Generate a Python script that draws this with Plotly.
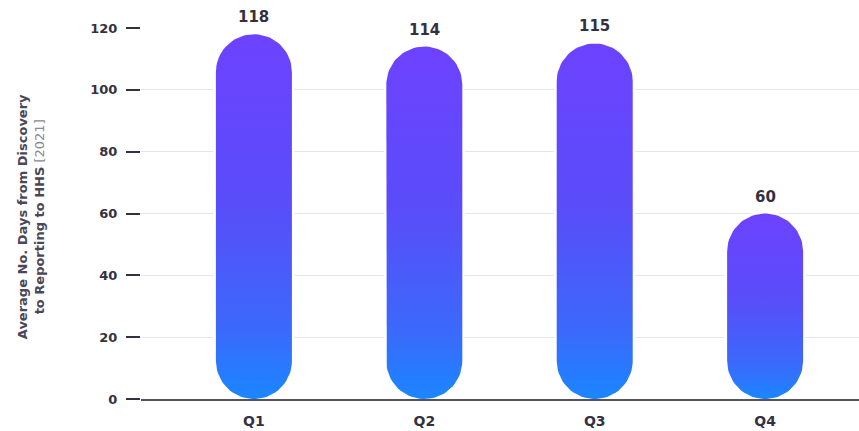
import numpy as np
import plotly.graph_objects as go

# Data
quarters = ["Q1", "Q2", "Q3", "Q4"]
avg_days = [118, 114, 115, 60]
y_ticks = [0, 20, 40, 60, 80, 100, 120]

# Layout geometry (pixels)
W, H = 859, 431
M_L, M_R, M_T, M_B = 141, 0, 28, 32
Y_MAX = 120
X_RANGE = [-0.6626, 3.551]
BAR_HALF_PX = 38  # half bar width == end-cap radius

plot_w = W - M_L - M_R
plot_h = H - M_T - M_B
px_per_x = plot_w / (X_RANGE[1] - X_RANGE[0])
px_per_y = plot_h / Y_MAX
half_w = BAR_HALF_PX / px_per_x
cap_ry = BAR_HALF_PX / px_per_y

TEXT = "#34313f"
FONT = "DejaVu Sans"

grad = [[0.0, "#1b86ff"], [0.2, "#3c68fb"], [0.55, "#5a4cf9"], [1.0, "#6d42ff"]]


def pill(xc, v):
    """Outline of a vertical capsule spanning 0..v centred at xc."""
    t_top = np.linspace(0, np.pi, 40)
    t_bot = np.linspace(np.pi, 2 * np.pi, 40)
    xs = np.concatenate([xc + half_w * np.cos(t_top), xc + half_w * np.cos(t_bot)])
    ys = np.concatenate([(v - cap_ry) + cap_ry * np.sin(t_top), cap_ry + cap_ry * np.sin(t_bot)])
    return np.append(xs, xs[0]), np.append(ys, ys[0])


fig = go.Figure()

for i, v in enumerate(avg_days):
    xs, ys = pill(i, v)
    # white halo so gridlines stop short of the bar
    fig.add_trace(go.Scatter(x=xs, y=ys, mode="lines", fill="toself",
                             fillcolor="white", line=dict(color="white", width=5),
                             hoverinfo="skip", showlegend=False))
    fig.add_trace(go.Scatter(x=xs, y=ys, mode="lines", fill="toself",
                             fillgradient=dict(type="vertical", colorscale=grad),
                             line=dict(width=0), name=quarters[i], showlegend=False))
    fig.add_annotation(x=i, y=v, text=str(v), showarrow=False, yanchor="bottom",
                       yshift=6, font=dict(family=FONT, size=15, color=TEXT, weight=700))

fig.add_annotation(
    xref="paper", yref="paper", x=(31 - M_L) / plot_w, y=0.49,
    text="<b>Average No. Days from Discovery</b><br><b>to Reporting to HHS</b> "
         "<span style='color:#8a8894'>[2021]</span>",
    textangle=-90, showarrow=False, xanchor="center", yanchor="middle",
    font=dict(family=FONT, size=13, color="#4a4758"),
)

fig.update_xaxes(
    range=X_RANGE, tickvals=list(range(len(quarters))), ticktext=quarters,
    showgrid=False, zeroline=False, showline=True, linecolor="#55535f", linewidth=1.5,
    ticks="", ticklabelstandoff=8,
    tickfont=dict(family=FONT, size=14, color=TEXT, weight=700),
)
fig.update_yaxes(
    range=[0, Y_MAX], tickvals=y_ticks, showgrid=True, gridcolor="#e6e6e6", gridwidth=1,
    zeroline=False, showline=False, ticks="outside", ticklen=14, tickwidth=2,
    tickcolor="#34313f", ticklabelstandoff=6,
    tickfont=dict(family=FONT, size=13, color=TEXT, weight=700),
)
fig.update_layout(
    width=W, height=H, margin=dict(l=M_L, r=M_R, t=M_T, b=M_B, autoexpand=False),
    paper_bgcolor="white", plot_bgcolor="white",
)

fig.write_html("out.html")
